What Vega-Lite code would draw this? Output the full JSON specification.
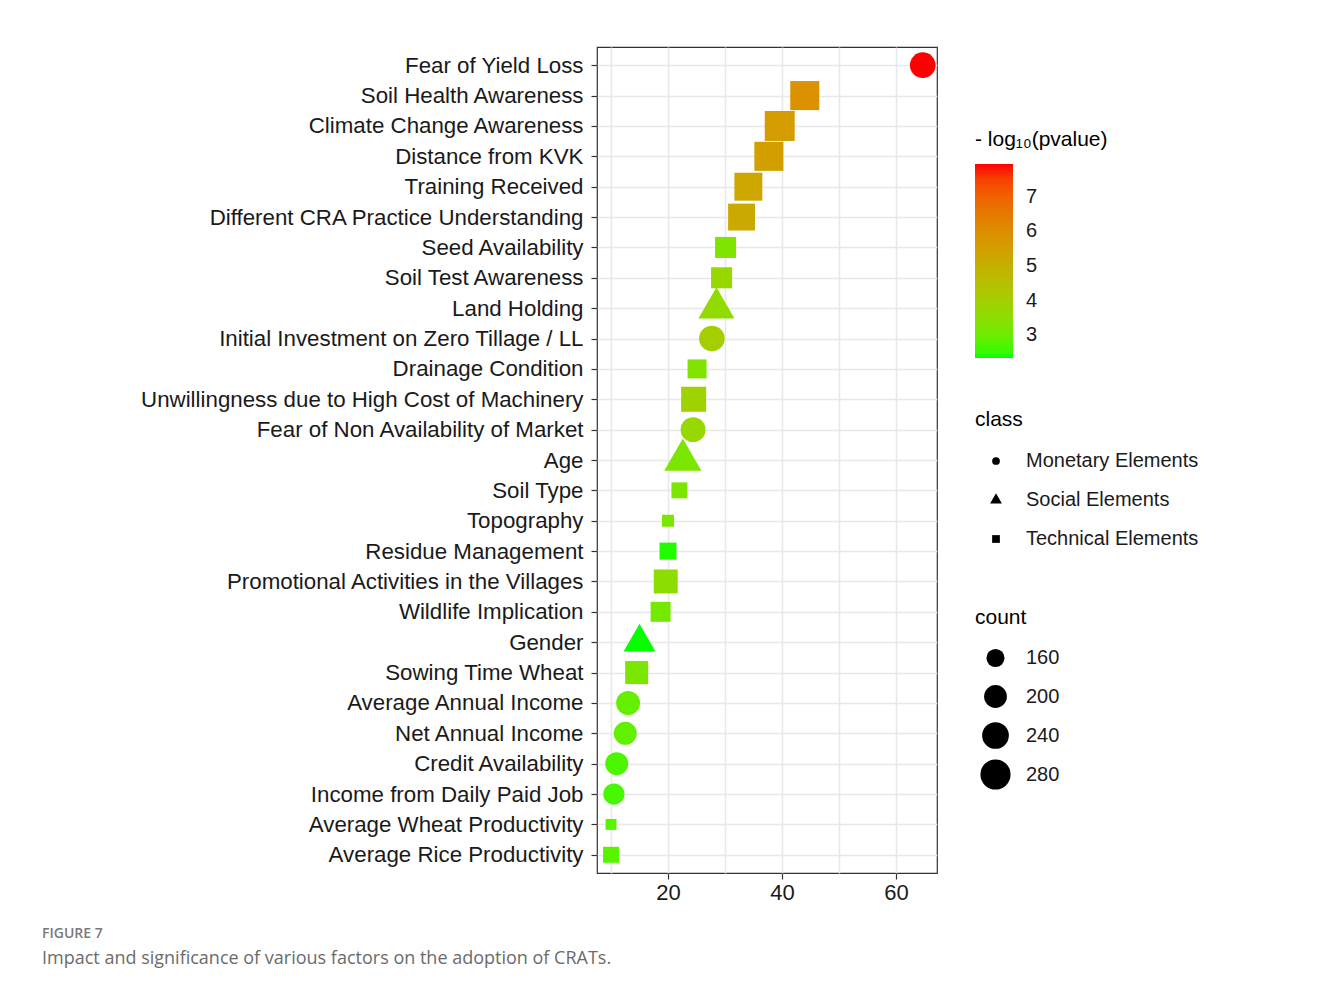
{
  "$schema": "https://vega.github.io/schema/vega-lite/v6.json",
  "width": 340,
  "height": 826,
  "autosize": {"type": "none"},
  "padding": {"left": 597, "top": 47, "right": 394, "bottom": 119},
  "background": "white",
  "title": {
    "text": "FIGURE 7",
    "subtitle": "Impact and significance of various factors on the adoption of CRATs.",
    "orient": "bottom",
    "anchor": "start",
    "frame": "group",
    "dx": -555,
    "offset": 24,
    "font": "Open Sans",
    "fontSize": 14,
    "fontWeight": 600,
    "color": "#7a7a7a",
    "subtitleFont": "Open Sans",
    "subtitleFontSize": 18,
    "subtitleColor": "#6b6b6b",
    "subtitlePadding": 9
  },
  "data": {
    "values": [
      {"factor": "Fear of Yield Loss", "importance": 64.7, "neglog10p": 7.95, "class": "Monetary Elements", "count": 229},
      {"factor": "Soil Health Awareness", "importance": 44.0, "neglog10p": 5.9, "class": "Technical Elements", "count": 267},
      {"factor": "Climate Change Awareness", "importance": 39.6, "neglog10p": 5.6, "class": "Technical Elements", "count": 278},
      {"factor": "Distance from KVK", "importance": 37.7, "neglog10p": 5.5, "class": "Technical Elements", "count": 267},
      {"factor": "Training Received", "importance": 34.1, "neglog10p": 5.3, "class": "Technical Elements", "count": 254},
      {"factor": "Different CRA Practice Understanding", "importance": 32.9, "neglog10p": 5.2, "class": "Technical Elements", "count": 242},
      {"factor": "Seed Availability", "importance": 30.1, "neglog10p": 3.3, "class": "Technical Elements", "count": 184},
      {"factor": "Soil Test Awareness", "importance": 29.4, "neglog10p": 3.7, "class": "Technical Elements", "count": 184},
      {"factor": "Land Holding", "importance": 28.5, "neglog10p": 3.6, "class": "Social Elements", "count": 209},
      {"factor": "Initial Investment on Zero Tillage / LL", "importance": 27.7, "neglog10p": 4.05, "class": "Monetary Elements", "count": 229},
      {"factor": "Drainage Condition", "importance": 25.1, "neglog10p": 3.3, "class": "Technical Elements", "count": 167},
      {"factor": "Unwillingness due to High Cost of Machinery", "importance": 24.5, "neglog10p": 3.9, "class": "Technical Elements", "count": 222},
      {"factor": "Fear of Non Availability of Market", "importance": 24.4, "neglog10p": 3.7, "class": "Monetary Elements", "count": 220},
      {"factor": "Age", "importance": 22.6, "neglog10p": 3.2, "class": "Social Elements", "count": 216},
      {"factor": "Soil Type", "importance": 22.0, "neglog10p": 3.2, "class": "Technical Elements", "count": 145},
      {"factor": "Topography", "importance": 20.0, "neglog10p": 3.2, "class": "Technical Elements", "count": 122},
      {"factor": "Residue Management", "importance": 20.0, "neglog10p": 2.4, "class": "Technical Elements", "count": 152},
      {"factor": "Promotional Activities in the Villages", "importance": 19.6, "neglog10p": 3.5, "class": "Technical Elements", "count": 211},
      {"factor": "Wildlife Implication", "importance": 18.7, "neglog10p": 3.1, "class": "Technical Elements", "count": 175},
      {"factor": "Gender", "importance": 15.0, "neglog10p": 2.35, "class": "Social Elements", "count": 184},
      {"factor": "Sowing Time Wheat", "importance": 14.5, "neglog10p": 3.2, "class": "Technical Elements", "count": 202},
      {"factor": "Average Annual Income", "importance": 13.0, "neglog10p": 2.9, "class": "Monetary Elements", "count": 211},
      {"factor": "Net Annual Income", "importance": 12.5, "neglog10p": 2.85, "class": "Monetary Elements", "count": 202},
      {"factor": "Credit Availability", "importance": 11.0, "neglog10p": 2.65, "class": "Monetary Elements", "count": 202},
      {"factor": "Income from Daily Paid Job", "importance": 10.5, "neglog10p": 2.6, "class": "Monetary Elements", "count": 186},
      {"factor": "Average Wheat Productivity", "importance": 10.0, "neglog10p": 2.75, "class": "Technical Elements", "count": 117},
      {"factor": "Average Rice Productivity", "importance": 10.0, "neglog10p": 2.75, "class": "Technical Elements", "count": 145}
    ]
  },
  "mark": {"type": "point", "filled": true, "opacity": 1, "strokeWidth": 0},
  "encoding": {
    "y": {
      "field": "factor",
      "type": "nominal",
      "sort": null,
      "scale": {"type": "point", "padding": 0.6},
      "axis": {
        "title": null,
        "domain": false,
        "grid": true,
        "tickSize": 6,
        "tickColor": "#333333",
        "tickWidth": 1.2,
        "labelFont": "Liberation Sans",
        "labelFontSize": 22.3,
        "labelColor": "#1a1a1a",
        "labelPadding": 8,
        "labelLimit": 600,
        "gridColor": "#e8e8e8",
        "gridWidth": 1.5
      }
    },
    "x": {
      "field": "importance",
      "type": "quantitative",
      "scale": {"domain": [7.54, 67.2], "nice": false, "zero": false},
      "axis": {
        "title": null,
        "domain": false,
        "grid": true,
        "values": [10, 20, 30, 40, 50, 60],
        "labelExpr": "datum.value % 20 === 0 ? datum.label : ''",
        "tickColor": {"condition": {"test": "datum.value % 20 === 0", "value": "#333333"}, "value": "transparent"},
        "tickSize": 6,
        "tickWidth": 1.2,
        "labelFont": "Liberation Sans",
        "labelFontSize": 22,
        "labelColor": "#1a1a1a",
        "labelPadding": 3,
        "gridColor": "#e8e8e8",
        "gridWidth": 1.5
      }
    },
    "color": {
      "field": "neglog10p",
      "type": "quantitative",
      "scale": {"domain": [2.34, 7.95], "range": ["#00ff00", "#ff0000"], "interpolate": "lab", "nice": false, "zero": false},
      "legend": {
        "orient": "none",
        "legendX": 378,
        "legendY": 82,
        "direction": "vertical",
        "title": "- log₁₀(pvalue)",
        "titleFont": "Liberation Sans",
        "titleFontSize": 21,
        "titleFontWeight": "normal",
        "titleColor": "#000000",
        "titlePadding": 14,
        "gradientLength": 194,
        "gradientThickness": 38,
        "gradientStrokeWidth": 0,
        "values": [3, 4, 5, 6, 7],
        "labelFont": "Liberation Sans",
        "labelFontSize": 20,
        "labelColor": "#1a1a1a",
        "labelOffset": 13
      }
    },
    "shape": {
      "field": "class",
      "type": "nominal",
      "scale": {
        "domain": ["Monetary Elements", "Social Elements", "Technical Elements"],
        "range": ["circle", "M0,-1.755L1.52,0.878L-1.52,0.878Z", "square"]
      },
      "legend": {
        "orient": "none",
        "legendX": 378,
        "legendY": 362,
        "title": "class",
        "titleFont": "Liberation Sans",
        "titleFontSize": 21,
        "titleFontWeight": "normal",
        "titleColor": "#000000",
        "titlePadding": 21,
        "symbolSize": 60,
        "symbolFillColor": "#000000",
        "symbolStrokeWidth": 0,
        "symbolOffset": 11,
        "labelFont": "Liberation Sans",
        "labelFontSize": 20,
        "labelColor": "#1a1a1a",
        "labelOffset": 20,
        "labelLimit": 400,
        "rowPadding": 19
      }
    },
    "size": {
      "field": "count",
      "type": "quantitative",
      "scale": {"domain": [160, 280], "range": [327, 907], "zero": false},
      "legend": {
        "orient": "none",
        "legendX": 378,
        "legendY": 560,
        "title": "count",
        "titleFont": "Liberation Sans",
        "titleFontSize": 21,
        "titleFontWeight": "normal",
        "titleColor": "#000000",
        "titlePadding": 20,
        "values": [160, 200, 240, 280],
        "symbolType": "circle",
        "symbolFillColor": "#000000",
        "symbolStrokeWidth": 0,
        "symbolOffset": 5,
        "gridAlign": "all",
        "labelFont": "Liberation Sans",
        "labelFontSize": 20,
        "labelColor": "#1a1a1a",
        "labelOffset": 15,
        "rowPadding": 6
      }
    }
  },
  "config": {"view": {"stroke": "#333333", "strokeWidth": 1.2}}
}
